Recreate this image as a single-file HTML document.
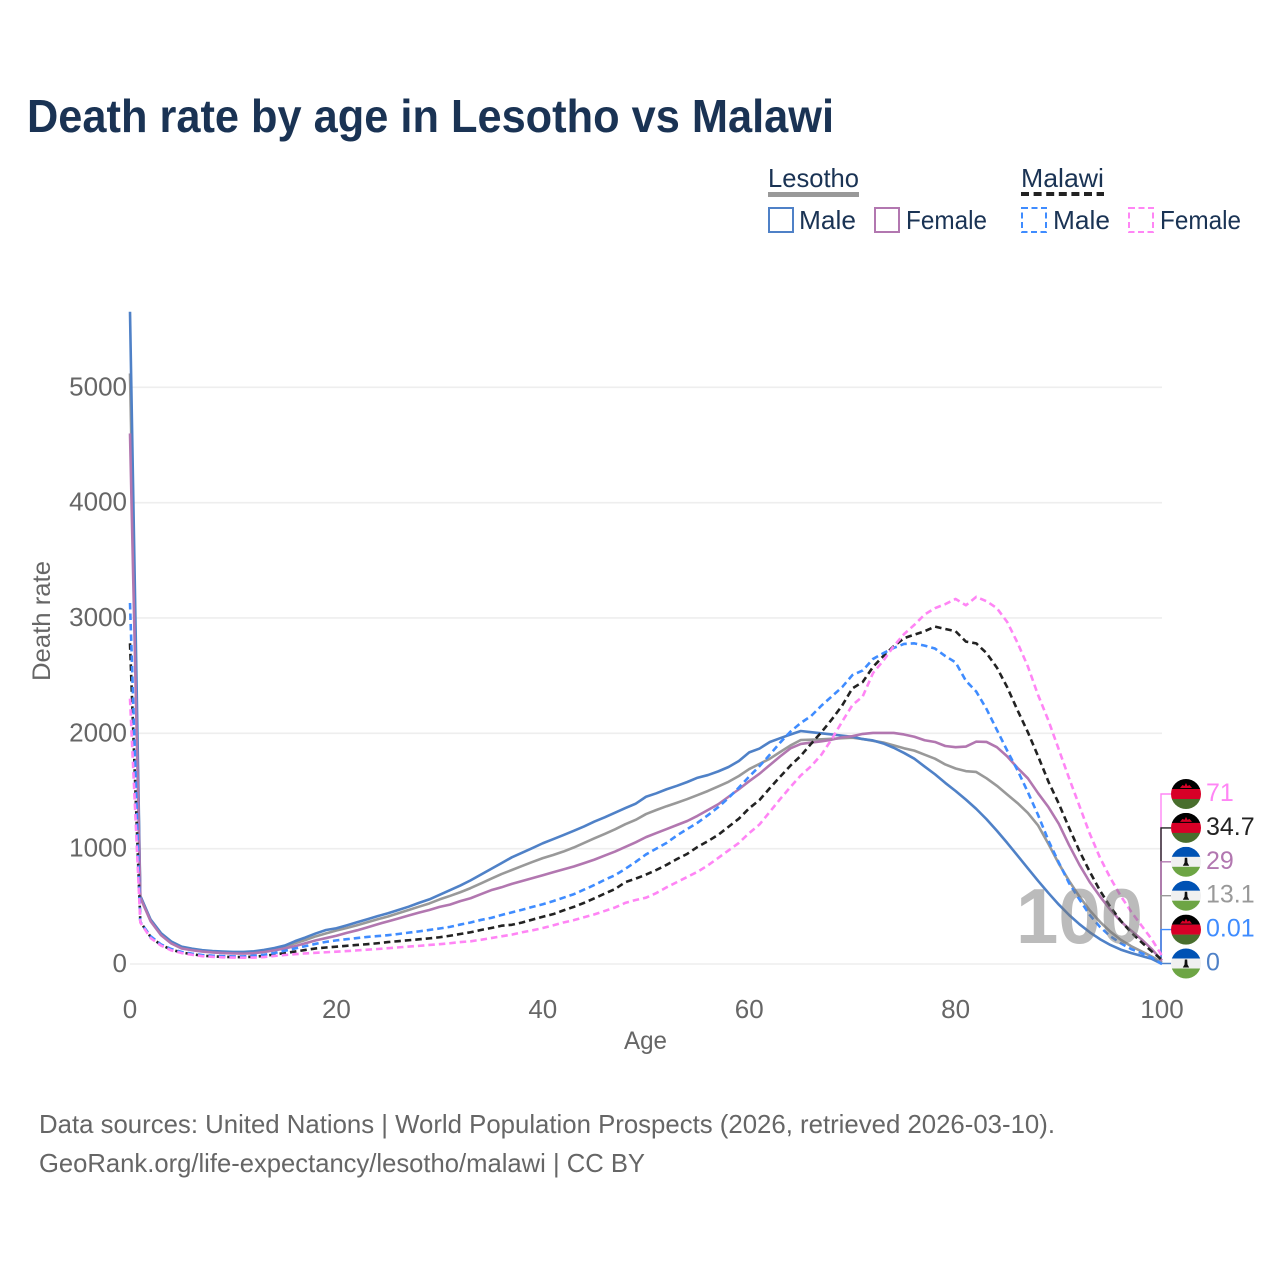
<!DOCTYPE html>
<html lang="en">
<head>
<meta charset="utf-8">
<title>Death rate by age in Lesotho vs Malawi</title>
<style>
html,body{margin:0;padding:0;background:#fff;}
svg{display:block;font-family:"Liberation Sans",sans-serif;}
</style>
</head>
<body>
<svg id="chart" xmlns="http://www.w3.org/2000/svg" width="1280" height="1280" viewBox="0 0 1280 1280">
  <rect x="0" y="0" width="1280" height="1280" fill="#fff"/>
  <text x="27" y="132" font-size="46" font-weight="700" fill="#1a3354" textLength="807" lengthAdjust="spacingAndGlyphs">Death rate by age in Lesotho vs Malawi</text>

  <g font-size="26" fill="#1a3354">
    <text x="768" y="187" textLength="91" lengthAdjust="spacingAndGlyphs">Lesotho</text>
    <rect x="768" y="192" width="91" height="5" fill="#999"/>
    <text x="1021" y="187" textLength="83" lengthAdjust="spacingAndGlyphs">Malawi</text>
    <line x1="1021" y1="194" x2="1104" y2="194" stroke="#222" stroke-width="4" stroke-dasharray="8 4.6"/>
    <rect x="769" y="208" width="24" height="24" fill="none" stroke="#4f81c7" stroke-width="2"/>
    <text x="799" y="229" textLength="57" lengthAdjust="spacingAndGlyphs">Male</text>
    <rect x="875" y="208" width="24" height="24" fill="none" stroke="#b277b0" stroke-width="2"/>
    <text x="906" y="229" textLength="81" lengthAdjust="spacingAndGlyphs">Female</text>
    <rect x="1022" y="208" width="24" height="24" fill="none" stroke="#3f8cff" stroke-width="2" stroke-dasharray="6 3.5"/>
    <text x="1053" y="229" textLength="57" lengthAdjust="spacingAndGlyphs">Male</text>
    <rect x="1129" y="208" width="24" height="24" fill="none" stroke="#ff85f5" stroke-width="2" stroke-dasharray="6 3.5"/>
    <text x="1160" y="229" textLength="81" lengthAdjust="spacingAndGlyphs">Female</text>
  </g>

  <g id="grid"></g>
  <g id="yticks"></g>
  <g id="xticks"></g>
  <text transform="translate(50,621) rotate(-90)" text-anchor="middle" font-size="25" fill="#666" textLength="120" lengthAdjust="spacingAndGlyphs">Death rate</text>
  <text x="645.5" y="1049" text-anchor="middle" font-size="25" fill="#666" textLength="43" lengthAdjust="spacingAndGlyphs">Age</text>
  <g id="connectors"></g>
  <g id="series"></g>
  <text x="1016" y="943" font-size="78" font-weight="700" fill="#777" fill-opacity="0.5" textLength="127" lengthAdjust="spacingAndGlyphs">100</text>
  <g id="endlabels"></g>

  <g font-size="26" fill="#666">
    <text x="39" y="1133" textLength="1016" lengthAdjust="spacingAndGlyphs">Data sources: United Nations | World Population Prospects (2026, retrieved 2026-03-10).</text>
    <text x="39" y="1172" textLength="606" lengthAdjust="spacingAndGlyphs">GeoRank.org/life-expectancy/lesotho/malawi | CC BY</text>
  </g>
</svg>
<script>
const yTickValues = [0, 1000, 2000, 3000, 4000, 5000];
const xTickValues = [0, 20, 40, 60, 80, 100];
const lesothoTotal = [5120,590,375,258,188,145,128,116,108,103,100,100,104,115,130,150,180,208,240,265,290,312,336,362,388,412,440,468,497,525,560,590,622,658,698,740,780,815,850,885,918,945,975,1010,1050,1090,1128,1168,1212,1250,1300,1335,1368,1398,1430,1465,1500,1540,1580,1630,1690,1735,1780,1838,1895,1942,1945,1948,1952,1958,1962,1950,1935,1920,1895,1870,1850,1815,1780,1730,1695,1672,1665,1610,1545,1470,1395,1310,1200,1040,870,720,585,465,365,280,210,155,110,65,13.1];
const lesothoMale = [5655,590,385,268,195,150,133,120,112,108,105,105,110,122,139,160,198,230,265,295,310,335,362,388,415,440,468,497,530,560,600,640,680,725,775,825,875,925,965,1005,1047,1082,1118,1155,1193,1235,1272,1312,1352,1390,1450,1480,1515,1545,1578,1615,1638,1670,1708,1760,1835,1868,1925,1958,1990,2020,2010,2000,1990,1980,1970,1950,1938,1912,1875,1830,1780,1712,1645,1570,1500,1425,1345,1255,1155,1050,940,830,720,615,515,425,345,275,215,165,125,95,70,45,0];
const lesothoFemale = [4600,575,370,250,178,135,120,108,100,95,92,90,94,104,118,135,155,180,205,225,245,270,292,318,345,370,395,420,445,468,495,515,545,570,605,640,665,695,720,745,770,795,820,845,875,905,940,975,1015,1055,1100,1135,1170,1205,1240,1285,1335,1385,1450,1515,1585,1650,1725,1800,1870,1908,1920,1930,1945,1965,1975,1995,2003,2003,2003,1990,1970,1940,1925,1890,1880,1885,1928,1925,1880,1800,1700,1610,1480,1360,1215,1030,860,710,585,470,370,290,215,130,29];
const malawiTotal = [2780,365,235,165,125,100,85,72,66,62,60,60,63,70,82,95,108,122,135,143,150,158,165,172,180,190,198,206,214,222,232,245,260,275,295,312,332,340,360,385,410,432,465,495,530,570,610,650,710,740,775,815,860,910,955,1015,1065,1120,1190,1260,1350,1422,1525,1624,1720,1805,1910,2010,2120,2240,2390,2445,2576,2670,2755,2825,2855,2885,2925,2905,2885,2795,2780,2695,2570,2400,2200,2010,1800,1580,1390,1180,980,800,635,495,375,275,190,110,34.7];
const malawiMale = [3130,365,240,170,130,105,90,78,72,68,66,66,72,80,95,115,135,155,175,192,205,215,225,235,242,250,260,272,283,295,308,322,342,360,382,400,425,448,470,495,518,545,575,605,645,685,730,770,825,885,950,1000,1050,1115,1170,1225,1290,1360,1440,1530,1625,1715,1815,1920,2015,2090,2150,2240,2320,2400,2505,2545,2645,2695,2740,2775,2780,2760,2735,2670,2615,2455,2362,2210,2030,1850,1680,1490,1290,1070,880,700,560,425,320,240,180,130,95,55,0.01];
const malawiFemale = [2300,360,225,160,118,95,80,68,62,58,56,55,56,60,70,78,85,92,97,102,107,112,118,124,130,137,144,151,157,165,172,180,190,197,210,225,240,255,275,292,312,335,360,380,405,430,460,490,530,555,575,615,665,710,755,800,855,920,985,1050,1135,1210,1320,1430,1535,1635,1715,1815,1950,2100,2245,2320,2523,2630,2755,2860,2940,3030,3085,3120,3165,3110,3183,3145,3085,2965,2785,2580,2330,2110,1860,1610,1370,1130,920,745,590,455,335,215,71];

const NS = 'http://www.w3.org/2000/svg';
const xScale = function (age) { return 130 + age * 10.32; };
const yScale = function (v) { return 964 - v * 0.11534; };
function make(tag, parent, attrs) {
  const node = document.createElementNS(NS, tag);
  Object.keys(attrs).forEach(function (k) { node.setAttribute(k, attrs[k]); });
  parent.appendChild(node);
  return node;
}
const gridG = document.getElementById('grid');
const yG = document.getElementById('yticks');
const xG = document.getElementById('xticks');
const seriesG = document.getElementById('series');
const connG = document.getElementById('connectors');
const endG = document.getElementById('endlabels');

yTickValues.forEach(function (v) {
  const g = make('line', gridG, {x1: 130, x2: 1162, y1: yScale(v), y2: yScale(v), stroke: '#eeeeee', 'stroke-width': 1.6});
  
  
  const t = make('text', yG, {x: 127, y: yScale(v) + 8, 'text-anchor': 'end', 'font-size': 26, fill: '#666'});
  t.textContent = String(v);
  
  
});
xTickValues.forEach(function (v) {
  const t = make('text', xG, {x: xScale(v), y: 1018, 'text-anchor': 'middle', 'font-size': 26, fill: '#666'});
  t.textContent = String(v);
  
  
});

const seriesList = [
  {id: 'lesotho-total', vals: lesothoTotal, color: '#999999', dash: '', flag: 'ls', labelColor: '#999999'},
  {id: 'lesotho-male', vals: lesothoMale, color: '#4f81c7', dash: '', flag: 'ls', labelColor: '#4f81c7'},
  {id: 'lesotho-female', vals: lesothoFemale, color: '#b277b0', dash: '', flag: 'ls', labelColor: '#b277b0'},
  {id: 'malawi-total', vals: malawiTotal, color: '#222222', dash: '6.5 4', flag: 'mw', labelColor: '#222222'},
  {id: 'malawi-male', vals: malawiMale, color: '#3f8cff', dash: '6.5 4', flag: 'mw', labelColor: '#3f8cff'},
  {id: 'malawi-female', vals: malawiFemale, color: '#ff85f5', dash: '6.5 4', flag: 'mw', labelColor: '#ff85f5'}
];
seriesList.forEach(function (s) {
  const d = s.vals.map(function (v, i) { return (i ? 'L' : 'M') + xScale(i).toFixed(2) + ' ' + yScale(v).toFixed(2); }).join('');
  const p = make('path', seriesG, {d: d, fill: 'none', stroke: s.color, 'stroke-width': 2.6, 'stroke-linejoin': 'round'});
  if (s.dash) { p.setAttribute('stroke-dasharray', s.dash); }
  
  
});

function drawFlag(kind, cy, parent, idx) {
  const cx = 1186, r = 15;
  const g = make('g', parent, {});
  
  
  const clipId = 'flag-clip-' + idx;
  const clip = make('clipPath', g, {id: clipId});
  make('circle', clip, {cx: cx, cy: cy, r: r});
  const inner = make('g', g, {'clip-path': 'url(#' + clipId + ')'});
  const cols = kind === 'mw' ? ['#000000', '#d80027', '#496e2d'] : ['#0052b4', '#f0f0f0', '#6da544'];
  cols.forEach(function (c, i) {
    make('rect', inner, {x: cx - r, y: cy - r + i * 10, width: 2 * r, height: 10.2, fill: c});
  });
  if (kind === 'mw') {
    make('path', inner, {d: 'M' + (cx - 6) + ' ' + (cy - 6) + 'L' + (cx - 3.5) + ' ' + (cy - 9) + 'L' + (cx - 1.5) + ' ' + (cy - 8) + 'L' + cx + ' ' + (cy - 11) + 'L' + (cx + 1.5) + ' ' + (cy - 8) + 'L' + (cx + 3.5) + ' ' + (cy - 9) + 'L' + (cx + 6) + ' ' + (cy - 6) + 'Z', fill: '#d80027'});
  } else {
    make('path', inner, {d: 'M' + (cx - 1.2) + ' ' + (cy - 4) + 'L' + (cx + 1.2) + ' ' + (cy - 4) + 'L' + (cx + 1.5) + ' ' + (cy + 1) + 'L' + (cx + 3.2) + ' ' + (cy + 4) + 'L' + (cx - 3.2) + ' ' + (cy + 4) + 'L' + (cx - 1.5) + ' ' + (cy + 1) + 'Z', fill: '#111'});
  }
}

const ranked = seriesList.slice().sort(function (a, b) {
  return b.vals[b.vals.length - 1] - a.vals[a.vals.length - 1];
});
const order = ranked.map(function (s, i) { return {s: s, i: i}; });
order.forEach(function (o) {
  const ly = 794 + o.i * 33.9;
  const last = o.s.vals[o.s.vals.length - 1];
  const c = make('path', connG, {d: 'M1161 ' + yScale(last).toFixed(1) + 'L1161 ' + ly + 'L1171 ' + ly, fill: 'none', stroke: o.s.color, 'stroke-width': 1.4});
  
  
  drawFlag(o.s.flag, ly, endG, o.i);
  const t = make('text', endG, {x: 1206, y: ly + 7, 'font-size': 25, fill: o.s.labelColor});
  t.textContent = String(last);
  
  
});
</script>
</body>
</html>
